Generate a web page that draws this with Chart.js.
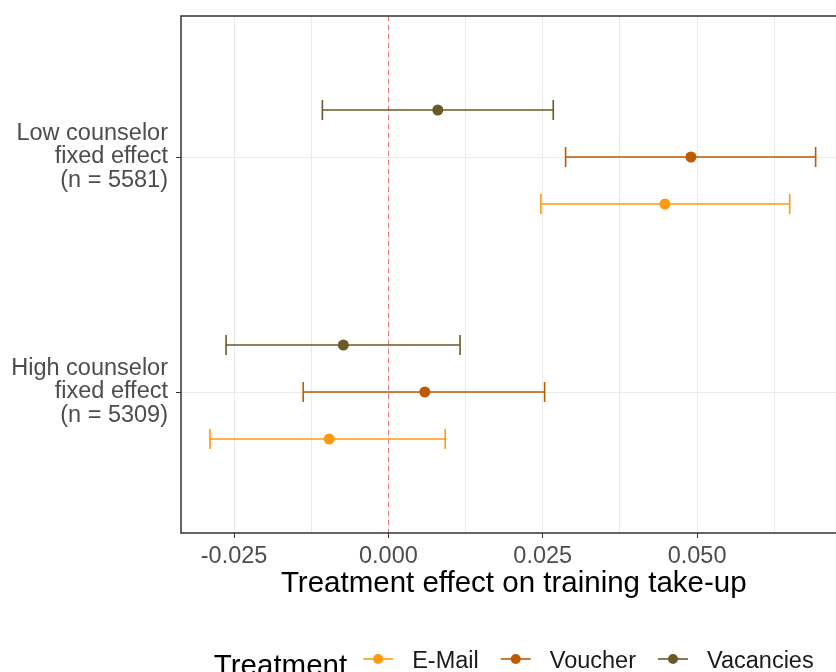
<!DOCTYPE html>
<html>
<head>
<meta charset="utf-8">
<script src="https://cdn.jsdelivr.net/npm/chart.js@4"></script>
<style>
  html, body { margin: 0; padding: 0; background: #fff; overflow: hidden; }
  #wrap { width: 836px; height: 672px; overflow: hidden; }
  canvas { display: block; }
</style>
</head>
<body>
<div id="wrap"><canvas id="chart" width="852" height="672"></canvas></div>
<script>
/******************** DATA ******************/
// rows of the y axis, bottom to top
const groupLabels = [
  ['High counselor', 'fixed effect', '(n = 5309)'],
  ['Low counselor', 'fixed effect', '(n = 5581)']
];
const treatments = ['E-Mail', 'Voucher', 'Vacancies'];

// point estimates and 95% CI per treatment, order: [High, Low]
const emailEst = [-0.0096, 0.0448];
const emailLo = [-0.0289, 0.0247];
const emailHi = [0.0092, 0.0650];

const voucherEst = [0.0059, 0.0490];
const voucherLo = [-0.0138, 0.0287];
const voucherHi = [0.0253, 0.0692];

const vacanciesEst = [-0.0073, 0.0080];
const vacanciesLo = [-0.0263, -0.0107];
const vacanciesHi = [0.0116, 0.0267];

const majorTicks = [-0.025, 0, 0.025, 0.05];
const minorTicks = [-0.0125, 0.0125, 0.0375, 0.0625];
const tickLabels = ['-0.025', '0.000', '0.025', '0.050'];

const xTitle = 'Treatment effect on training take-up';
const legendTitle = 'Treatment';

/******************** STYLE ******************/
const colors = ['#FF9A10', '#BF5A02', '#6B5A28'];
const DODGE = 0.2;
const FONT = '"Liberation Sans", Arial, sans-serif';

const estimates = [emailEst, voucherEst, vacanciesEst];
const lows = [emailLo, voucherLo, vacanciesLo];
const highs = [emailHi, voucherHi, vacanciesHi];

const datasets = treatments.map((name, t) => ({
  label: name,
  data: estimates[t].map((v, g) => ({ x: v, y: g + 1 + (t - 1) * DODGE })),
  backgroundColor: colors[t],
  borderColor: colors[t],
  pointRadius: 5.5,
  pointHoverRadius: 5.5,
  borderWidth: 0
}));

/******************** PLUGINS ******************/
const zeroLine = {
  id: 'zeroLine',
  beforeDatasetsDraw(chart) {
    const { ctx, chartArea, scales } = chart;
    const x = Math.round(scales.x.getPixelForValue(0)) + 0.5;
    ctx.save();
    ctx.strokeStyle = '#E8737B';
    ctx.lineWidth = 1;
    ctx.setLineDash([5, 4]);
    ctx.beginPath();
    ctx.moveTo(x, chartArea.top);
    ctx.lineTo(x, chartArea.bottom);
    ctx.stroke();
    ctx.restore();
  }
};

const errorBars = {
  id: 'errorBars',
  beforeDatasetsDraw(chart) {
    const { ctx, scales } = chart;
    ctx.save();
    ctx.lineWidth = 1.6;
    treatments.forEach((name, t) => {
      ctx.strokeStyle = colors[t];
      estimates[t].forEach((v, g) => {
        const yv = g + 1 + (t - 1) * DODGE;
        const y = scales.y.getPixelForValue(yv);
        const cap = Math.abs(scales.y.getPixelForValue(yv + 0.043) - y);
        const x0 = scales.x.getPixelForValue(lows[t][g]);
        const x1 = scales.x.getPixelForValue(highs[t][g]);
        ctx.beginPath();
        ctx.moveTo(x0, y); ctx.lineTo(x1, y);
        ctx.moveTo(x0, y - cap); ctx.lineTo(x0, y + cap);
        ctx.moveTo(x1, y - cap); ctx.lineTo(x1, y + cap);
        ctx.stroke();
      });
    });
    ctx.restore();
  }
};

const panelBorder = {
  id: 'panelBorder',
  afterDatasetsDraw(chart) {
    const { ctx, chartArea } = chart;
    ctx.save();
    ctx.strokeStyle = '#333333';
    ctx.lineWidth = 1.5;
    ctx.strokeRect(chartArea.left, chartArea.top, chartArea.right - chartArea.left, chartArea.bottom - chartArea.top);
    ctx.restore();
  }
};

const bottomLegend = {
  id: 'bottomLegend',
  afterDraw(chart) {
    const { ctx, chartArea } = chart;
    const keyW = 30, keyGap = 19, itemGap = 22, titleGap = 16;
    ctx.save();
    ctx.font = '29.5px ' + FONT;
    const titleW = ctx.measureText(legendTitle).width;
    ctx.font = '23.5px ' + FONT;
    const labelW = treatments.map(s => ctx.measureText(s).width);
    let total = titleW + titleGap;
    labelW.forEach((w, i) => { total += keyW + keyGap + w + (i < labelW.length - 1 ? itemGap : 0); });

    let x = (chartArea.left + chartArea.right) / 2 - total / 2;
    const keyY = 659;

    ctx.fillStyle = '#000';
    ctx.textBaseline = 'alphabetic';
    ctx.font = '29.5px ' + FONT;
    ctx.fillText(legendTitle, x, 674.5);
    x += titleW + titleGap;

    ctx.font = '23.5px ' + FONT;
    treatments.forEach((name, t) => {
      ctx.strokeStyle = colors[t];
      ctx.lineWidth = 1.6;
      ctx.beginPath();
      ctx.moveTo(x, keyY); ctx.lineTo(x + keyW, keyY);
      ctx.stroke();
      ctx.fillStyle = colors[t];
      ctx.beginPath();
      ctx.arc(x + keyW / 2, keyY, 5, 0, Math.PI * 2);
      ctx.fill();
      x += keyW + keyGap;
      ctx.fillStyle = '#1A1A1A';
      ctx.fillText(name, x, 667.5);
      x += labelW[t] + itemGap;
    });
    ctx.restore();
  }
};

/******************** CHART ******************/
const allTicks = majorTicks.concat(minorTicks).sort((a, b) => a - b);
const isMajor = v => majorTicks.some(m => Math.abs(m - v) < 1e-9);

new Chart(document.getElementById('chart'), {
  type: 'scatter',
  data: { datasets },
  options: {
    responsive: false,
    animation: false,
    events: [],
    layout: { padding: { top: 16, left: 0, right: 3, bottom: 70.5 } },
    plugins: {
      legend: { display: false },
      tooltip: { enabled: false }
    },
    scales: {
      x: {
        type: 'linear',
        min: -0.0336,
        max: 0.0742,
        afterBuildTicks: s => { s.ticks = allTicks.map(v => ({ value: v })); },
        afterFit: s => { s.height = 68.5; s.paddingLeft = 0; s.paddingRight = 0; },
        grid: {
          color: '#EBEBEB',
          lineWidth: 1,
          tickLength: 5,
          tickColor: c => (c.tick && isMajor(c.tick.value)) ? '#333333' : 'rgba(0,0,0,0)'
        },
        border: { display: false },
        ticks: {
          autoSkip: false,
          maxRotation: 0,
          padding: 7,
          color: '#4D4D4D',
          font: { family: FONT, size: 23.5, lineHeight: 1.0 },
          callback: v => {
            const i = majorTicks.findIndex(m => Math.abs(m - v) < 1e-9);
            return i >= 0 ? tickLabels[i] : '';
          }
        },
        title: {
          display: true,
          text: xTitle,
          color: '#000',
          padding: 0,
          font: { family: FONT, size: 29.5, lineHeight: 1.2 }
        }
      },
      y: {
        type: 'linear',
        min: 0.4,
        max: 2.6,
        afterBuildTicks: s => { s.ticks = groupLabels.map((l, i) => ({ value: i + 1 })); },
        afterFit: s => { s.width = 181; s.paddingTop = 0; s.paddingBottom = 0; },
        grid: {
          color: '#EBEBEB',
          lineWidth: 1,
          tickLength: 5,
          tickColor: '#333333'
        },
        border: { display: false },
        ticks: {
          autoSkip: false,
          padding: 8,
          color: '#4D4D4D',
          font: { family: FONT, size: 23.5, lineHeight: 1.0 },
          callback: v => groupLabels[Math.round(v) - 1] || ''
        }
      }
    }
  },
  plugins: [zeroLine, errorBars, panelBorder, bottomLegend]
});
</script>
</body>
</html>
